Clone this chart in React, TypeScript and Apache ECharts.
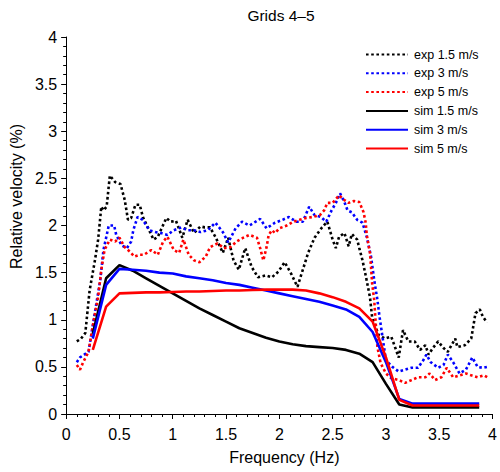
import React, { useEffect, useRef } from "react";
import * as echarts from "echarts";

const title = "Grids 4–5";
const xName = "Frequency (Hz)";
const yName = "Relative velocity (%)";
const seriesNames = ["exp 1.5 m/s", "exp 3 m/s", "exp 5 m/s", "sim 1.5 m/s", "sim 3 m/s", "sim 5 m/s"];

const expBlack: number[][] = [
  [0.10, 0.77], [0.14, 0.80], [0.18, 0.86], [0.22, 1.31], [0.27, 1.63], [0.30, 1.85], [0.33, 2.20], [0.35, 2.16],
  [0.38, 2.20], [0.41, 2.53], [0.46, 2.46], [0.51, 2.44], [0.55, 2.27], [0.58, 2.06], [0.61, 2.08], [0.65, 2.22],
  [0.69, 2.22], [0.72, 2.09], [0.77, 1.97], [0.82, 1.85], [0.86, 1.88], [0.90, 1.98], [0.94, 2.08], [0.98, 2.04],
  [1.03, 2.05], [1.09, 1.87], [1.14, 2.06], [1.20, 1.92], [1.26, 1.99], [1.30, 1.98], [1.35, 1.98], [1.40, 1.88],
  [1.47, 1.71], [1.52, 1.87], [1.57, 1.63], [1.62, 1.53], [1.68, 1.76], [1.74, 1.56], [1.80, 1.45], [1.87, 1.47],
  [1.93, 1.45], [1.99, 1.51], [2.05, 1.61], [2.11, 1.49], [2.17, 1.35], [2.22, 1.53], [2.27, 1.71], [2.33, 1.87],
  [2.40, 1.98], [2.45, 2.04], [2.50, 1.85], [2.53, 1.76], [2.56, 1.88], [2.61, 1.92], [2.65, 1.78], [2.68, 1.91],
  [2.73, 1.85], [2.75, 1.76], [2.78, 1.63], [2.81, 1.47], [2.85, 1.24], [2.87, 1.03], [2.93, 0.84], [2.99, 0.80],
  [3.05, 0.82], [3.12, 0.60], [3.16, 0.89], [3.21, 0.77], [3.27, 0.77], [3.32, 0.68], [3.37, 0.73], [3.40, 0.63],
  [3.44, 0.70], [3.49, 0.77], [3.54, 0.70], [3.58, 0.66], [3.65, 0.80], [3.67, 0.71], [3.74, 0.73], [3.80, 0.80],
  [3.84, 1.07], [3.88, 1.11], [3.91, 1.03], [3.95, 0.97],
];

const expBlue: number[][] = [
  [0.10, 0.55], [0.13, 0.60], [0.17, 0.63], [0.21, 0.66], [0.27, 1.08], [0.32, 1.42], [0.35, 1.74], [0.40, 2.00],
  [0.45, 2.00], [0.47, 1.90], [0.52, 1.79], [0.57, 1.76], [0.61, 1.83], [0.63, 1.95], [0.67, 2.09], [0.72, 2.06],
  [0.78, 1.95], [0.84, 1.93], [0.89, 1.92], [0.95, 1.90], [1.01, 1.95], [1.08, 1.98], [1.14, 1.95], [1.20, 1.95],
  [1.26, 1.93], [1.33, 1.95], [1.40, 2.03], [1.47, 1.93], [1.52, 1.82], [1.59, 1.97], [1.65, 2.04], [1.72, 2.00],
  [1.82, 2.07], [1.88, 1.97], [1.96, 2.03], [2.03, 2.06], [2.09, 2.09], [2.16, 2.04], [2.22, 2.04], [2.28, 2.20],
  [2.33, 2.11], [2.39, 2.09], [2.44, 2.04], [2.49, 2.16], [2.53, 2.24], [2.57, 2.34], [2.61, 2.25], [2.64, 2.16],
  [2.68, 2.14], [2.73, 2.06], [2.78, 2.03], [2.82, 1.88], [2.86, 1.67], [2.89, 1.42], [2.92, 1.21], [2.94, 1.03],
  [2.97, 0.80], [3.00, 0.57], [3.06, 0.50], [3.12, 0.45], [3.18, 0.47], [3.24, 0.49], [3.30, 0.49], [3.35, 0.57],
  [3.38, 0.63], [3.42, 0.55], [3.49, 0.49], [3.54, 0.52], [3.58, 0.63], [3.63, 0.55], [3.69, 0.43], [3.75, 0.47],
  [3.81, 0.60], [3.86, 0.50], [3.91, 0.49], [3.95, 0.50],
];

const expRed: number[][] = [
  [0.10, 0.52], [0.13, 0.47], [0.16, 0.55], [0.21, 0.66], [0.26, 1.00], [0.30, 1.24], [0.33, 1.53], [0.36, 1.74],
  [0.41, 1.85], [0.46, 1.83], [0.50, 1.87], [0.55, 1.77], [0.60, 1.72], [0.64, 1.67], [0.69, 1.69], [0.73, 1.69],
  [0.80, 1.74], [0.86, 1.69], [0.91, 1.83], [0.95, 1.88], [1.01, 1.74], [1.06, 1.71], [1.10, 1.85], [1.15, 1.69],
  [1.20, 1.63], [1.25, 1.61], [1.31, 1.67], [1.35, 1.77], [1.42, 1.81], [1.48, 1.76], [1.54, 1.77], [1.60, 1.83],
  [1.66, 1.87], [1.72, 1.90], [1.79, 1.87], [1.82, 1.76], [1.85, 1.63], [1.88, 1.77], [1.90, 1.90], [1.93, 1.95],
  [1.96, 1.92], [2.00, 1.97], [2.07, 2.00], [2.13, 2.04], [2.19, 2.06], [2.25, 2.08], [2.31, 2.09], [2.38, 2.11],
  [2.42, 2.16], [2.45, 2.24], [2.50, 2.24], [2.56, 2.32], [2.61, 2.27], [2.65, 2.24], [2.70, 2.26], [2.75, 2.25],
  [2.79, 2.14], [2.81, 2.03], [2.82, 1.90], [2.85, 1.71], [2.86, 1.56], [2.87, 1.39], [2.89, 1.21], [2.90, 1.03],
  [2.92, 0.71], [2.95, 0.54], [3.00, 0.43], [3.05, 0.38], [3.12, 0.36], [3.18, 0.33], [3.24, 0.36], [3.30, 0.39],
  [3.37, 0.39], [3.41, 0.43], [3.46, 0.36], [3.52, 0.39], [3.57, 0.49], [3.63, 0.39], [3.69, 0.41], [3.75, 0.43],
  [3.80, 0.41], [3.86, 0.39], [3.92, 0.41], [3.95, 0.39],
];

const simFreq = [
  0.25, 0.375, 0.5, 0.625, 0.75, 0.875, 1.0, 1.125, 1.25, 1.375, 1.5, 1.625, 1.75, 1.875, 2.0,
  2.125, 2.25, 2.375, 2.5, 2.625, 2.75, 2.875, 3.0, 3.125, 3.25, 3.375, 3.5, 3.625, 3.75, 3.875,
];
const simBlack = [
  0.85, 1.44, 1.58, 1.52, 1.44, 1.36, 1.28, 1.20, 1.12, 1.05, 0.98, 0.91, 0.86, 0.81, 0.77,
  0.74, 0.72, 0.71, 0.70, 0.68, 0.64, 0.55, 0.32, 0.10, 0.07, 0.07, 0.07, 0.07, 0.07, 0.07,
];
const simBlue = [
  0.80, 1.37, 1.54, 1.53, 1.52, 1.50, 1.49, 1.46, 1.44, 1.42, 1.39, 1.37, 1.34, 1.31, 1.28,
  1.25, 1.22, 1.19, 1.15, 1.11, 1.03, 0.87, 0.55, 0.16, 0.11, 0.11, 0.11, 0.11, 0.11, 0.11,
];
const simRed = [
  0.68, 1.14, 1.28, 1.285, 1.29, 1.29, 1.295, 1.30, 1.30, 1.305, 1.31, 1.31, 1.315, 1.32, 1.32,
  1.32, 1.31, 1.28, 1.24, 1.19, 1.12, 0.98, 0.60, 0.15, 0.09, 0.09, 0.09, 0.09, 0.09, 0.09,
];

const colors = ["#000000", "#0000ff", "#ff0000"];
const FONT = "'Liberation Sans', Arial, sans-serif";

export default function App() {
  const ref = useRef<HTMLDivElement>(null);
  useEffect(() => {
    document.body.style.margin = "0";
    const chart = echarts.init(ref.current!, null, { renderer: "svg" });
    const pair = (ys: number[]) => simFreq.map((f, i) => [f, ys[i]]);
    const expData = [expBlack, expBlue, expRed];
    const simData = [pair(simBlack), pair(simBlue), pair(simRed)];
    const series: any[] = [];
    expData.forEach((d, i) => {
      series.push({
        name: seriesNames[i],
        type: "line",
        data: d,
        symbol: "none",
        lineStyle: { color: colors[i], width: 2.6, type: [2.6, 2.6] },
        itemStyle: { color: colors[i] },
        z: 2,
      });
    });
    simData.forEach((d, i) => {
      series.push({
        name: seriesNames[i + 3],
        type: "line",
        data: d,
        symbol: "none",
        lineStyle: { color: colors[i], width: 2.6 },
        itemStyle: { color: colors[i] },
        z: 3,
      });
    });
    chart.setOption({
      animation: false,
      textStyle: { fontFamily: FONT, color: "#000" },
      title: {
        text: title,
        left: 281,
        top: 7,
        textAlign: "center",
        padding: 0,
        textStyle: { fontSize: 15.5, fontWeight: "normal", color: "#000", fontFamily: FONT },
      },
      legend: {
        orient: "vertical",
        left: 365,
        top: 48,
        padding: 0,
        itemWidth: 42,
        itemHeight: 14,
        itemGap: 5.8,
        data: seriesNames,
        itemStyle: { opacity: 0 },
        textStyle: { fontSize: 12.5, color: "#000", fontFamily: FONT, padding: [0, 0, 0, 1] },
      },
      grid: { left: 64, top: 37, width: 430, height: 377, containLabel: false },
      xAxis: {
        type: "value",
        min: 0,
        max: 4,
        interval: 0.5,
        name: xName,
        nameLocation: "middle",
        nameGap: 35,
        nameTextStyle: { fontSize: 16, color: "#000", fontFamily: FONT, padding: [0, 0, 0, 10] },
        axisLine: { lineStyle: { color: "#000", width: 1 } },
        axisTick: { show: true, length: 5, lineStyle: { color: "#000" } },
        minorTick: { show: true, splitNumber: 5, length: 3, lineStyle: { color: "#000" } },
        splitLine: { show: false },
        axisLabel: { fontSize: 16, color: "#000", margin: 12, fontFamily: FONT },
      },
      yAxis: {
        type: "value",
        min: 0,
        max: 4,
        interval: 0.5,
        name: yName,
        nameLocation: "middle",
        nameGap: 35,
        nameTextStyle: { fontSize: 16, color: "#000", fontFamily: FONT, padding: [0, 0, 0, 58] },
        axisLine: { show: true, lineStyle: { color: "#000", width: 1 } },
        axisTick: { show: true, length: 5, lineStyle: { color: "#000" } },
        minorTick: { show: true, splitNumber: 5, length: 3, lineStyle: { color: "#000" } },
        splitLine: { show: false },
        axisLabel: { fontSize: 16, color: "#000", margin: 9, fontFamily: FONT },
      },
      series,
    });
    return () => chart.dispose();
  }, []);
  return <div ref={ref} style={{ width: 500, height: 472 }} />;
}
